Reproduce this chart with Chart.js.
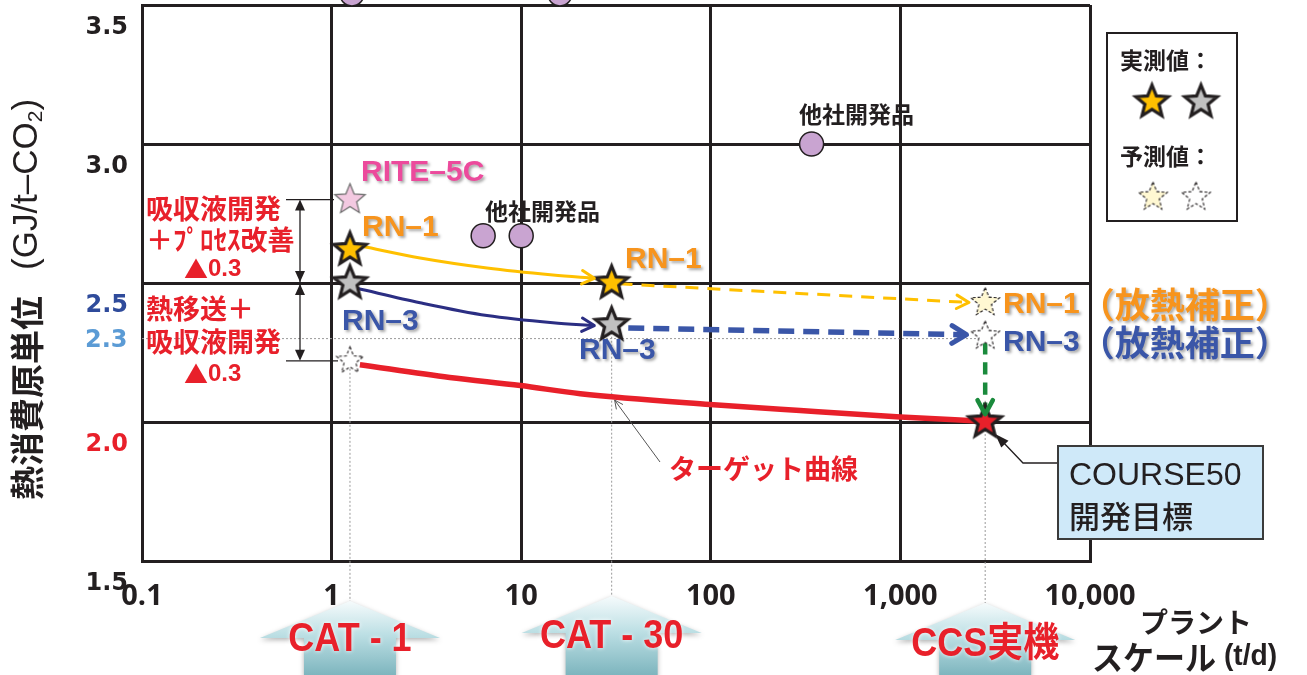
<!DOCTYPE html>
<html lang="ja">
<head>
<meta charset="utf-8">
<title>熱消費原単位</title>
<script src="https://cdn.jsdelivr.net/npm/chart.js@4.4.1/dist/chart.umd.min.js"></script>
<style>
  html, body { margin: 0; padding: 0; background: #fff; }
  #chart { display: block; }
</style>
</head>
<body>
<canvas id="chart" width="1307" height="675"></canvas>
<script>
// axis ticks
const xTicks = [0.1, 1, 10, 100, 1000, 10000];
const xTickLabels = ['0.1', '1', '10', '100', '1,000', '10,000'];
const yTicks = [1.5, 2.0, 2.5, 3.0, 3.5];
const yTickColors = ['#231f20', '#e8202a', '#2f4b9b', '#231f20', '#231f20'];
const yRefValue = 2.3;

// plant scales (t/d)
const plantScales = [1.25, 30, 2800];
const plantLabels = ['CAT - 1', 'CAT - 30', 'CCS実機'];

// stars: measured / predicted (GJ/t-CO2)
const rn1Measured = [{x: 1.25, y: 2.62}, {x: 30, y: 2.50}];
const rn3Measured = [{x: 1.25, y: 2.50}, {x: 30, y: 2.35}];
const rn1Predicted = [{x: 2800, y: 2.43}];
const rn3Predicted = [{x: 2800, y: 2.31}];
const cat1Predicted = [{x: 1.25, y: 2.22}];
const rite5c = [{x: 1.25, y: 2.80}];
const targetPoint = [{x: 2800, y: 2.00}];
const otherProducts = [{x: 1.28, y: 3.54}, {x: 16, y: 3.54}, {x: 6.3, y: 2.67}, {x: 10, y: 2.67}, {x: 340, y: 3.00}];

// trend lines
const rn1Trend = [{x: 1.47, y: 2.631}, {x: 2.93, y: 2.590}, {x: 6.6, y: 2.554}, {x: 14.7, y: 2.529}, {x: 24.3, y: 2.517}];
const rn3Trend = [{x: 1.36, y: 2.481}, {x: 2.93, y: 2.429}, {x: 6.6, y: 2.383}, {x: 14.7, y: 2.357}, {x: 24.3, y: 2.347}];
const rn1Scaleup = [{x: 33, y: 2.497}, {x: 2300, y: 2.430}];
const rn3Scaleup = [{x: 36.7, y: 2.338}, {x: 2230, y: 2.314}];
const heatLossDrop = [{x: 2800, y: 2.286}, {x: 2800, y: 2.028}];
const targetCurve = [{x: 1.41, y: 2.206}, {x: 4.2, y: 2.160}, {x: 9.9, y: 2.131}, {x: 20.5, y: 2.102},
  {x: 99, y: 2.063}, {x: 296, y: 2.041}, {x: 1000, y: 2.018}, {x: 2700, y: 2.003}];

const JP = '"Noto Sans CJK JP", sans-serif';
const LAT = '"Liberation Sans", Arial, sans-serif';

function makeStar(R, fill, stroke, lw, dash) {
  const s = Math.ceil(2 * R + lw * 2 + 6);
  const c = document.createElement('canvas');
  c.width = c.height = s;
  const g = c.getContext('2d');
  g.translate(s / 2, s / 2);
  g.beginPath();
  for (let i = 0; i < 10; i++) {
    const r = i % 2 ? R * 0.44 : R;
    const a = -Math.PI / 2 + i * Math.PI / 5;
    g.lineTo(r * Math.cos(a), r * Math.sin(a));
  }
  g.closePath();
  g.fillStyle = fill;
  g.fill();
  if (dash) g.setLineDash(dash);
  g.lineWidth = lw;
  g.strokeStyle = stroke;
  g.lineJoin = 'miter';
  g.stroke();
  return c;
}

const starYellow = makeStar(17, '#ffc000', '#231f20', 3.2);
const starGray = makeStar(17, '#c0c0c0', '#231f20', 3.2);
const starRed = makeStar(17, '#e8202a', '#231f20', 3.2);
const starPink = makeStar(16, '#f3c9e1', '#6b6b6b', 1.2);
const starPaleDash = makeStar(15, '#fff8d2', '#231f20', 1.1, [3, 2]);
const starWhiteDash = makeStar(15, '#ffffff', '#231f20', 1.1, [3, 2]);
const starWhiteDashSmall = makeStar(14, '#ffffff', '#231f20', 1.1, [3, 2]);

function txt(ctx, parts, x, y, opt = {}) {
  ctx.save();
  ctx.textBaseline = 'middle';
  ctx.textAlign = 'left';
  if (opt.shadow) {
    ctx.shadowColor = 'rgba(0,0,0,0.35)';
    ctx.shadowBlur = 3;
    ctx.shadowOffsetX = 2;
    ctx.shadowOffsetY = 2;
  }
  ctx.translate(x, y);
  if (opt.sx) ctx.scale(opt.sx, 1);
  let w = 0;
  for (const [t, font] of parts) { ctx.font = font; w += ctx.measureText(t).width; }
  let cx = opt.center ? -w / 2 : 0;
  for (const [t, font, color] of parts) {
    ctx.font = font;
    ctx.fillStyle = color || '#231f20';
    ctx.fillText(t, cx, 0);
    cx += ctx.measureText(t).width;
  }
  ctx.restore();
}

function arrowV(ctx, x, y, ang, len, spread, color, lw) {
  ctx.save();
  ctx.strokeStyle = color;
  ctx.lineWidth = lw;
  ctx.lineCap = 'round';
  ctx.lineJoin = 'round';
  ctx.setLineDash([]);
  ctx.beginPath();
  ctx.moveTo(x - len * Math.cos(ang - spread), y - len * Math.sin(ang - spread));
  ctx.lineTo(x, y);
  ctx.lineTo(x - len * Math.cos(ang + spread), y - len * Math.sin(ang + spread));
  ctx.stroke();
  ctx.restore();
}

function solidHead(ctx, x, y, ang, len, half) {
  ctx.beginPath();
  ctx.moveTo(x, y);
  ctx.lineTo(x - len * Math.cos(ang) + half * Math.sin(ang), y - len * Math.sin(ang) - half * Math.cos(ang));
  ctx.lineTo(x - len * Math.cos(ang) - half * Math.sin(ang), y - len * Math.sin(ang) + half * Math.cos(ang));
  ctx.closePath();
  ctx.fill();
}

function blockArrow(ctx, cx, tipY) {
  const hw = 90, sw = 46, wy = tipY + 37, by = 676;
  ctx.save();
  ctx.beginPath();
  ctx.moveTo(cx, tipY);
  ctx.lineTo(cx + hw, wy);
  ctx.lineTo(cx + sw, wy);
  ctx.lineTo(cx + sw, by);
  ctx.lineTo(cx - sw, by);
  ctx.lineTo(cx - sw, wy);
  ctx.lineTo(cx - hw, wy);
  ctx.closePath();
  const g = ctx.createLinearGradient(0, tipY, 0, by);
  g.addColorStop(0, '#f6fbfc');
  g.addColorStop(0.45, '#bcdfe4');
  g.addColorStop(1, '#7cb4bd');
  ctx.fillStyle = g;
  ctx.shadowColor = 'rgba(0,0,0,0.3)';
  ctx.shadowBlur = 5;
  ctx.shadowOffsetY = 2;
  ctx.fill();
  ctx.restore();
}

const decorations = {
  id: 'decorations',
  beforeDatasetsDraw(chart) {
    const {ctx, scales: {x, y}, chartArea: a} = chart;
    ctx.save();
    ctx.strokeStyle = '#9a9a9a';
    ctx.lineWidth = 1;
    ctx.setLineDash([2, 2]);
    const yr = y.getPixelForValue(yRefValue);
    ctx.beginPath();
    ctx.moveTo(a.left, yr);
    ctx.lineTo(x.getPixelForValue(2800), yr);
    ctx.stroke();
    const drops = [[plantScales[0], cat1Predicted[0].y, 601], [plantScales[1], rn3Measured[1].y, 596], [plantScales[2], targetPoint[0].y, 603]];
    for (const [vx, vy, bottom] of drops) {
      const px = x.getPixelForValue(vx);
      ctx.beginPath();
      ctx.moveTo(px, y.getPixelForValue(vy));
      ctx.lineTo(px, bottom);
      ctx.stroke();
    }
    ctx.restore();
  },
  afterDatasetsDraw(chart) {
    const {ctx, scales: {x, y}} = chart;

    // arrow heads at the end of trend lines
    chart.data.datasets.forEach((ds, i) => {
      if (!ds.arrow) return;
      const pts = chart.getDatasetMeta(i).data;
      const p = pts[pts.length - 1], q = pts[pts.length - 2];
      const ang = Math.atan2(p.y - q.y, p.x - q.x);
      arrowV(ctx, p.x, p.y, ang, ds.arrow.len, ds.arrow.spread, ds.borderColor, ds.arrow.width);
    });

    // y label for 2.3
    txt(ctx, [['2.3', 'bold 24px "DejaVu Sans"', '#5b9bd5']], 85, y.getPixelForValue(yRefValue) + 2);

    // dimension arrows
    ctx.save();
    ctx.strokeStyle = '#231f20';
    ctx.fillStyle = '#231f20';
    ctx.lineWidth = 1.3;
    const dx = 300;
    const y28 = y.getPixelForValue(rite5c[0].y);
    const y25 = y.getPixelForValue(rn3Measured[0].y);
    const y22 = y.getPixelForValue(cat1Predicted[0].y);
    ctx.beginPath();
    ctx.moveTo(286, y28); ctx.lineTo(334, y28);
    ctx.moveTo(286, y22); ctx.lineTo(338, y22);
    ctx.moveTo(dx, y28 + 8); ctx.lineTo(dx, y22 - 8);
    ctx.stroke();
    solidHead(ctx, dx, y28, -Math.PI / 2, 11, 5);
    solidHead(ctx, dx, y25 - 1, Math.PI / 2, 11, 5);
    solidHead(ctx, dx, y25 + 1, -Math.PI / 2, 11, 5);
    solidHead(ctx, dx, y22, Math.PI / 2, 11, 5);
    ctx.restore();

    // red annotations
    const red = '#e8202a';
    const jpR = 'bold 27px ' + JP;
    txt(ctx, [['吸収液開発', jpR, red]], 146, 209);
    txt(ctx, [['＋ﾌﾟﾛｾｽ改善', jpR, red]], 146, 240);
    txt(ctx, [['▲', '24px ' + JP, red], ['0.3', 'bold 24px ' + LAT, red]], 184, 269);
    txt(ctx, [['熱移送＋', jpR, red]], 146, 309);
    txt(ctx, [['吸収液開発', jpR, red]], 146, 342);
    txt(ctx, [['▲', '24px ' + JP, red], ['0.3', 'bold 24px ' + LAT, red]], 184, 374);

    // series labels
    const lat30 = 'bold 30px ' + LAT;
    const jpParen = 'bold 35px ' + JP;
    const orange = '#f7941d', blue = '#3a56a8';
    txt(ctx, [['RITE–5C', lat30, '#ec4a9c']], 361, 173, {shadow: true});
    txt(ctx, [['RN–1', lat30, orange]], 362, 228, {shadow: true});
    txt(ctx, [['RN–1', lat30, orange]], 625, 260, {shadow: true});
    txt(ctx, [['RN–3', lat30, blue]], 342, 322, {shadow: true});
    txt(ctx, [['RN–3', lat30, blue]], 579, 351, {shadow: true});
    txt(ctx, [['RN–1', lat30, orange], ['（放熱補正）', jpParen, orange]], 1003, 305, {shadow: true});
    txt(ctx, [['RN–3', lat30, blue], ['（放熱補正）', jpParen, blue]], 1003, 343, {shadow: true});
    txt(ctx, [['他社開発品', 'bold 23px ' + JP, '#231f20']], 485, 211);
    txt(ctx, [['他社開発品', 'bold 23px ' + JP, '#231f20']], 799, 114);

    // target curve label + leader
    const lx = x.getPixelForValue(plantScales[1]) + 3, ly = y.getPixelForValue(2.093) + 4;
    ctx.save();
    ctx.strokeStyle = '#555';
    ctx.lineWidth = 1;
    ctx.beginPath(); ctx.moveTo(lx, ly); ctx.lineTo(660, 462); ctx.stroke();
    arrowV(ctx, lx, ly, Math.atan2(ly - 462, lx - 660), 9, 0.45, '#555', 1);
    ctx.restore();
    txt(ctx, [['ターゲット曲線', 'bold 27px ' + JP, red]], 669, 469);

    // COURSE50 box
    const sx = x.getPixelForValue(targetPoint[0].x), sy = y.getPixelForValue(targetPoint[0].y);
    ctx.save();
    ctx.strokeStyle = '#231f20';
    ctx.fillStyle = '#231f20';
    ctx.lineWidth = 1.3;
    ctx.beginPath();
    ctx.moveTo(sx + 14, sy + 16); ctx.lineTo(1023, 463); ctx.lineTo(1058, 463);
    ctx.stroke();
    solidHead(ctx, sx + 10, sy + 12, Math.atan2(sy + 12 - 463, sx + 10 - 1023), 14, 5);
    ctx.fillStyle = '#cfe9f9';
    ctx.fillRect(1058, 446, 205, 93);
    ctx.strokeStyle = '#3b3b3b';
    ctx.lineWidth = 2;
    ctx.strokeRect(1058, 446, 205, 93);
    ctx.restore();
    txt(ctx, [['COURSE50', '32px ' + LAT, '#231f20']], 1069, 476);
    txt(ctx, [['開発目標', '500 31px ' + JP, '#231f20']], 1069, 516);

    // legend box
    ctx.save();
    ctx.fillStyle = '#fff';
    ctx.fillRect(1107, 33, 130, 188);
    ctx.strokeStyle = '#231f20';
    ctx.lineWidth = 2;
    ctx.strokeRect(1107, 33, 130, 188);
    ctx.restore();
    txt(ctx, [['実測値：', 'bold 23px ' + JP, '#231f20']], 1120, 60);
    txt(ctx, [['予測値：', 'bold 23px ' + JP, '#231f20']], 1120, 156);
    const legendStars = [[starYellow, 1152, 102], [starGray, 1201, 102], [starPaleDash, 1153, 197], [starWhiteDash, 1196, 197]];
    for (const [img, cx, cy] of legendStars) ctx.drawImage(img, cx - img.width / 2, cy - img.height / 2);

    // plant scale arrows
    const tips = [601, 596, 603];
    const labelY = [640, 637, 645];
    plantScales.forEach((v, i) => {
      const cx = x.getPixelForValue(v);
      blockArrow(ctx, cx, tips[i]);
      ctx.save();
      ctx.shadowColor = 'rgba(255,255,255,0.95)';
      ctx.shadowBlur = 4;
      ctx.translate(cx, labelY[i]);
      ctx.scale(0.9, 1);
      ctx.font = 'bold 40px ' + LAT + ', ' + JP;
      ctx.fillStyle = red;
      ctx.textAlign = 'center';
      ctx.textBaseline = 'middle';
      ctx.fillText(plantLabels[i], 0, 0);
      ctx.restore();
    });

    // x axis title
    txt(ctx, [['プラント', 'bold 28px ' + JP, '#231f20']], 1196, 622, {center: true});
    txt(ctx, [['スケール', 'bold 33px ' + JP, '#231f20'], [' (t/d)', 'bold 30px ' + LAT, '#231f20']], 1092, 657, {sx: 0.94});

    // y axis title
    ctx.save();
    ctx.translate(27, 500);
    ctx.rotate(-Math.PI / 2);
    ctx.textBaseline = 'middle';
    ctx.fillStyle = '#231f20';
    let cx = 0;
    const run = (t, font, dy = 0) => { ctx.font = font; ctx.fillText(t, cx, dy); cx += ctx.measureText(t).width; };
    run('熱消費原単位', 'bold 34px ' + JP);
    cx += 26;
    run('(', '35px ' + LAT);
    run('GJ/t–CO', '35px ' + LAT);
    run('2', '21px ' + LAT, 9);
    run(')', '35px ' + LAT);
    ctx.restore();
  }
};

const lineDs = (data, color, width, extra = {}) => Object.assign({
  data, showLine: true, borderColor: color, borderWidth: width, pointRadius: 0,
  tension: 0.4, cubicInterpolationMode: 'monotone', fill: false, order: 5
}, extra);
const starDs = (data, img) => ({ data, pointStyle: img, pointRadius: 18, order: 0 });

new Chart(document.getElementById('chart'), {
  type: 'scatter',
  data: {
    datasets: [
      lineDs(targetCurve, '#e8202a', 5.5),
      lineDs(rn1Trend, '#ffc000', 3, { arrow: { len: 14, spread: 0.5, width: 3 } }),
      lineDs(rn3Trend, '#2b2e83', 3, { arrow: { len: 14, spread: 0.5, width: 3 } }),
      lineDs(rn1Scaleup, '#ffc000', 3, { borderDash: [13, 9], arrow: { len: 14, spread: 0.5, width: 3 } }),
      lineDs(rn3Scaleup, '#3a56a8', 5.5, { borderDash: [16, 9], arrow: { len: 17, spread: 0.55, width: 5 } }),
      lineDs(heatLossDrop, '#1a8a3c', 4.5, { borderDash: [12, 8], arrow: { len: 16, spread: 0.5, width: 4.5 } }),
      { data: otherProducts, pointRadius: 12, backgroundColor: '#c9a4d1', borderColor: '#231f20', borderWidth: 1.5, clip: false, order: 1 },
      starDs(rite5c, starPink),
      starDs(rn1Measured, starYellow),
      starDs(rn3Measured, starGray),
      starDs(rn1Predicted, starPaleDash),
      starDs(rn3Predicted, starWhiteDash),
      starDs(cat1Predicted, starWhiteDashSmall),
      starDs(targetPoint, starRed)
    ]
  },
  options: {
    responsive: false,
    animation: false,
    events: [],
    layout: { autoPadding: false, padding: { top: 5, right: 217, left: 0, bottom: 0 } },
    plugins: { legend: { display: false }, tooltip: { enabled: false } },
    scales: {
      x: {
        type: 'logarithmic',
        min: 0.1,
        max: 10000,
        afterBuildTicks: s => { s.ticks = xTicks.map(v => ({ value: v })); },
        afterFit: s => { s.height = 114; s.paddingLeft = 0; s.paddingRight = 0; },
        grid: { color: '#231f20', lineWidth: 3, drawTicks: false },
        border: { color: '#231f20', width: 3 },
        ticks: {
          autoSkip: false, maxRotation: 0, padding: 18, color: '#231f20',
          font: { family: '"Open Sans"', weight: 'bold', size: 29 },
          callback: (v, i) => xTickLabels[i]
        }
      },
      y: {
        min: 1.5,
        max: 3.5,
        afterBuildTicks: s => { s.ticks = yTicks.map(v => ({ value: v })); },
        afterFit: s => { s.width = 142; s.paddingTop = 0; s.paddingBottom = 0; },
        grid: { color: '#231f20', lineWidth: 3, drawTicks: false },
        border: { color: '#231f20', width: 3 },
        ticks: {
          padding: 14, labelOffset: 23,
          color: c => yTickColors[c.index],
          font: { family: '"DejaVu Sans"', weight: 'bold', size: 24 },
          callback: v => v.toFixed(1)
        }
      }
    }
  },
  plugins: [decorations]
});
</script>
</body>
</html>
